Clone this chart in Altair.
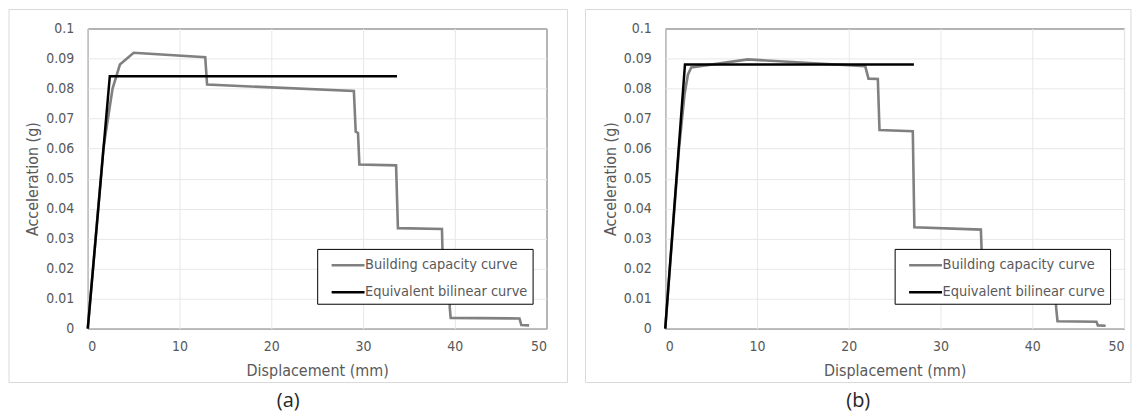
import altair as alt
import pandas as pd

series_names = ["Building capacity curve", "Equivalent bilinear curve"]
series_colors = ["#808080", "#000000"]
x_ticks = [0, 10, 20, 30, 40, 50]
y_ticks = [0, 0.01, 0.02, 0.03, 0.04, 0.05, 0.06, 0.07, 0.08, 0.09, 0.1]
captions = ["(a)", "(b)"]
x_title = "Displacement (mm)"
y_title = "Acceleration (g)"

# Panel (a)
a_cap_x = [0, 1.7, 2.3, 2.7, 3.5, 5.0, 12.8, 13.0, 29.0, 29.2, 29.45, 29.6, 33.6, 33.8,
           38.6, 38.7, 39.4, 39.45, 39.55, 47.05, 47.25, 48.1]
a_cap_y = [0, 0.060, 0.072, 0.080, 0.088, 0.0919, 0.0904, 0.0813, 0.0792, 0.0656, 0.0652,
           0.0547, 0.0544, 0.0335, 0.0332, 0.0200, 0.0190, 0.0070, 0.0036, 0.0034, 0.0012, 0.0011]
a_bil_x = [0, 2.4, 33.7]
a_bil_y = [0, 0.0841, 0.0841]

# Panel (b)
b_cap_x = [0, 1.5, 2.1, 2.47, 2.83, 9.0, 21.8, 22.15, 23.17, 23.35, 26.98, 27.15, 34.4,
           34.6, 42.5, 42.6, 42.75, 47.0, 47.15, 48.0]
b_cap_y = [0, 0.060, 0.078, 0.0846, 0.0870, 0.0897, 0.0874, 0.0833, 0.0832, 0.0662, 0.0658,
           0.0338, 0.0330, 0.0160, 0.0155, 0.0071, 0.0025, 0.0023, 0.0011, 0.0010]
b_bil_x = [0, 2.15, 27.1]
b_bil_y = [0, 0.088, 0.088]

FONT = "DejaVu Sans Condensed, Noto Sans, sans-serif"
GREY_TEXT = "#595959"
W, H = 460, 301


def panel(cap_x, cap_y, bil_x, bil_y, caption, frame_left, frame_right):
    cap = pd.DataFrame({"x": cap_x, "y": cap_y, "series": series_names[0],
                        "idx": list(range(len(cap_x)))})
    bil = pd.DataFrame({"x": bil_x, "y": bil_y, "series": series_names[1],
                        "idx": list(range(len(bil_x)))})
    color = alt.Color(
        "series:N",
        scale=alt.Scale(domain=series_names, range=series_colors),
        legend=alt.Legend(
            title=None, orient="none", legendX=230, legendY=221,
            strokeColor="black", fillColor="white", padding=5,
            symbolType="M-1.65,0L1.65,0", symbolSize=400, symbolStrokeWidth=2.5,
            symbolOffset=14.5, labelOffset=5.5, rowPadding=9,
            labelFont=FONT, labelFontSize=14.5, labelColor=GREY_TEXT, labelLimit=0,
        ),
    )
    xenc = alt.X("x:Q", scale=alt.Scale(domain=[0, 50], nice=False),
                 axis=alt.Axis(values=x_ticks, title=x_title, labelPadding=11, titlePadding=9))
    yenc = alt.Y("y:Q", scale=alt.Scale(domain=[0, 0.1], nice=False),
                 axis=alt.Axis(values=y_ticks, format="~g", title=y_title,
                               labelPadding=14, titlePadding=5))
    frame = alt.Chart(pd.DataFrame({"k": [0]})).mark_rect(
        fillOpacity=0, stroke="#d9d9d9", strokeWidth=1
    ).encode(x=alt.value(frame_left), x2=alt.value(frame_right),
             y=alt.value(-19), y2=alt.value(355))
    l1 = alt.Chart(cap).mark_line(strokeWidth=2.6).encode(
        x=xenc, y=yenc, color=color, order="idx:Q")
    l2 = alt.Chart(bil).mark_line(strokeWidth=2.5).encode(
        x=xenc, y=yenc, color=color, order="idx:Q")
    return alt.layer(frame, l1, l2).properties(
        width=W, height=H,
        title=alt.TitleParams(caption, orient="bottom", anchor="middle", frame="bounds",
                              fontSize=20, fontWeight="normal", font="Open Sans",
                              color="#262626", offset=8),
    )


pa = panel(a_cap_x, a_cap_y, a_bil_x, a_bil_y, captions[0], -79, 481)
pb = panel(b_cap_x, b_cap_y, b_bil_x, b_bil_y, captions[1], -80, 467)

chart = alt.hconcat(pa, pb, spacing=16).resolve_scale(
    color="independent", x="independent", y="independent"
).resolve_legend(color="independent").properties(padding=0).configure_axis(
    labelFont=FONT, labelFontSize=14, labelColor=GREY_TEXT,
    titleFont=FONT, titleFontSize=16, titleColor=GREY_TEXT, titleFontWeight="normal",
    gridColor="#e8e8e8", gridWidth=1, domain=False, ticks=False,
).configure_view(stroke="black", strokeWidth=1)

chart.save("out.html", embed_options={"renderer": "svg", "actions": False})
